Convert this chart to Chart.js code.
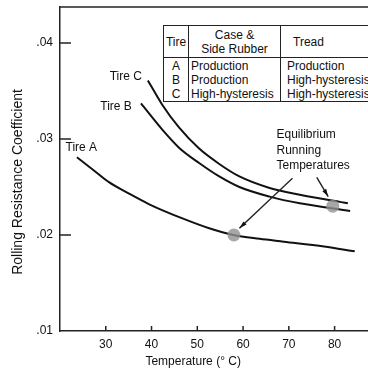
<!DOCTYPE html>
<html>
<head>
<meta charset="utf-8">
<script src="https://cdn.jsdelivr.net/npm/chart.js@4.4.1/dist/chart.umd.min.js"></script>
<style>
html, body { margin:0; padding:0; overflow:hidden; background:#fff; }
#wrap { position:relative; width:368px; height:372px; overflow:hidden; }
#c { position:absolute; left:0; top:0; }
#tbl { position:absolute; left:163px; top:25px; border-collapse:collapse; table-layout:fixed; width:220px;
  font:12px "Liberation Sans", Arial, sans-serif; color:#111; background:#fff; border:1px solid #222; }
#tbl td { border-left:1px solid #222; border-right:1px solid #222; padding:0; line-height:14px; white-space:nowrap; }
#tbl tr.head td { height:31px; border-bottom:1px solid #222; text-align:center; vertical-align:middle; }
#tbl tr.head td.tread { text-align:left; padding-left:12px; }
#tbl td.t { text-align:center; }
#tbl td.c { padding-left:2px; }
#tbl td.r { padding-left:6px; }
#tbl tr.first td { padding-top:1px; }
</style>
</head>
<body>
<div id="wrap">
<canvas id="c" width="368" height="372"></canvas>
<table id="tbl">
  <colgroup><col style="width:25px"><col style="width:92px"><col style="width:103px"></colgroup>
  <tr class="head"><td>Tire</td><td>Case &amp;<br>Side Rubber</td><td class="tread">Tread</td></tr>
  <tr class="first"><td class="t">A</td><td class="c">Production</td><td class="r">Production</td></tr>
  <tr><td class="t">B</td><td class="c">Production</td><td class="r">High-hysteresis</td></tr>
  <tr><td class="t">C</td><td class="c">High-hysteresis</td><td class="r">High-hysteresis</td></tr>
</table>
</div>
<script>
// values (temperature in deg C, rolling resistance coefficient)
const tireA_T = [23.7, 27.2, 30.7, 35.1, 39.5, 46.9, 52.6, 57.9, 63.6, 68.9, 77.7, 84.4];
const tireA_C = [0.0281, 0.0268, 0.0255, 0.0243, 0.0232, 0.0217, 0.0207, 0.0200, 0.0196, 0.0193, 0.0188, 0.0183];
const tireB_T = [37.7, 42.3, 46.0, 50.4, 54.8, 59.2, 65.8, 72.4, 83.4];
const tireB_C = [0.0337, 0.0310, 0.0291, 0.0275, 0.0261, 0.0250, 0.0240, 0.0233, 0.0225];
const tireC_T = [39.2, 42.3, 46.0, 50.4, 54.8, 59.2, 65.8, 72.4, 82.9];
const tireC_C = [0.0361, 0.0336, 0.0312, 0.0290, 0.0274, 0.0261, 0.0249, 0.0242, 0.0233];
const equilT = [58, 79.6];
const equilC = [0.0200, 0.0230];
const xTicks = [30, 40, 50, 60, 70, 80];
const yTicks = [0.01, 0.02, 0.03, 0.04];

const xTitle = 'Temperature (\u00b0 C)';
const yTitle = 'Rolling Resistance Coefficient';
const noteLines = ['Equilibrium', 'Running', 'Temperatures'];

const FONT = '"Liberation Sans", Arial, sans-serif';
Chart.defaults.font.family = FONT;
Chart.defaults.font.size = 12;
Chart.defaults.color = '#111';

const pts = (xs, ys) => xs.map((v, i) => ({x: v, y: ys[i]}));

function curve(label, xs, ys) {
  return {
    label: label,
    data: pts(xs, ys),
    borderColor: '#111',
    borderWidth: 2,
    pointRadius: 0,
    fill: false,
    cubicInterpolationMode: 'monotone',
    order: 2
  };
}

function arrow(ctx, x1, y1, x2, y2) {
  const a = Math.atan2(y2 - y1, x2 - x1);
  ctx.beginPath(); ctx.moveTo(x1, y1); ctx.lineTo(x2, y2); ctx.stroke();
  ctx.beginPath();
  ctx.moveTo(x2, y2);
  ctx.lineTo(x2 - 8 * Math.cos(a - 0.28), y2 - 8 * Math.sin(a - 0.28));
  ctx.lineTo(x2 - 8 * Math.cos(a + 0.28), y2 - 8 * Math.sin(a + 0.28));
  ctx.closePath(); ctx.fill();
}

// no extra room for edge labels: the frame sits where the original has it
function noPad(s) { s.paddingTop = 0; s.paddingBottom = 0; s.paddingLeft = 0; s.paddingRight = 0; }

const decor = {
  id: 'decor',
  afterDraw(chart) {
    const {ctx, chartArea: a, scales: {x, y}} = chart;
    ctx.save();
    ctx.strokeStyle = '#222';
    ctx.fillStyle = '#111';
    ctx.lineWidth = 1.5;
    // top frame line
    ctx.beginPath(); ctx.moveTo(a.left, a.top); ctx.lineTo(chart.width, a.top); ctx.stroke();
    // inward ticks
    xTicks.forEach(v => {
      const px = x.getPixelForValue(v);
      ctx.beginPath(); ctx.moveTo(px, a.bottom); ctx.lineTo(px, a.bottom - 5); ctx.stroke();
    });
    yTicks.slice(1).forEach(v => {
      const py = y.getPixelForValue(v);
      ctx.beginPath(); ctx.moveTo(a.left, py); ctx.lineTo(a.left + 11, py); ctx.stroke();
    });
    // arrows to equilibrium points
    ctx.lineWidth = 1.4;
    arrow(ctx, x.getPixelForValue(70.8), y.getPixelForValue(0.0259), x.getPixelForValue(59.2), y.getPixelForValue(0.0207));
    arrow(ctx, x.getPixelForValue(76.1), y.getPixelForValue(0.0260), x.getPixelForValue(78.6), y.getPixelForValue(0.0240));
    // curve labels
    ctx.font = '12px ' + FONT;
    ctx.textBaseline = 'middle';
    ctx.textAlign = 'right';
    ctx.fillText('Tire C', x.getPixelForValue(37.9), y.getPixelForValue(0.0365));
    ctx.fillText('Tire B', x.getPixelForValue(35.7), y.getPixelForValue(0.0334));
    ctx.textAlign = 'left';
    ctx.fillText('Tire A', x.getPixelForValue(21.2), y.getPixelForValue(0.0291));
    const nx = x.getPixelForValue(67.3), ny = y.getPixelForValue(0.0304);
    noteLines.forEach((t, i) => ctx.fillText(t, nx, ny + i * 15.5));
    // axis titles
    ctx.textAlign = 'center';
    ctx.fillText(xTitle, x.getPixelForValue(49.1), chart.height - 10);
    ctx.translate(18, 182);
    ctx.rotate(-Math.PI / 2);
    ctx.font = '14px ' + FONT;
    ctx.fillText(yTitle, 0, 0);
    ctx.restore();
  }
};

new Chart(document.getElementById('c'), {
  type: 'line',
  data: {
    datasets: [
      {
        label: 'Equilibrium running temperature',
        data: pts(equilT, equilC),
        showLine: false,
        pointRadius: 6.5,
        pointBackgroundColor: 'rgba(145,145,145,0.8)',
        pointBorderWidth: 0,
        order: 1
      },
      curve('Tire A', tireA_T, tireA_C),
      curve('Tire B', tireB_T, tireB_C),
      curve('Tire C', tireC_T, tireC_C)
    ]
  },
  options: {
    responsive: false,
    animation: false,
    devicePixelRatio: 1,
    layout: { autoPadding: false, padding: { top: 7, right: 0, left: 0, bottom: 0 } },
    plugins: { legend: { display: false }, tooltip: { enabled: false } },
    scales: {
      x: {
        type: 'linear',
        min: 20, max: 87.3,
        afterBuildTicks: s => { s.ticks = xTicks.map(v => ({value: v})); },
        afterFit: s => { s.height = 41; noPad(s); },
        grid: { display: true, drawOnChartArea: false, drawTicks: false },
        border: { display: true, color: '#222', width: 1.5 },
        ticks: { padding: 6, maxRotation: 0, color: '#111', font: { size: 12 } }
      },
      y: {
        type: 'linear',
        min: 0.01, max: 0.04375,
        afterBuildTicks: s => { s.ticks = yTicks.map(v => ({value: v})); },
        afterFit: s => { s.width = 60; noPad(s); },
        grid: { display: true, drawOnChartArea: false, drawTicks: false },
        border: { display: true, color: '#222', width: 1.5 },
        ticks: { padding: 7, color: '#111', font: { size: 12 },
          callback: v => v.toFixed(2).replace(/^0/, '') }
      }
    }
  },
  plugins: [decor]
});
</script>
</body>
</html>
